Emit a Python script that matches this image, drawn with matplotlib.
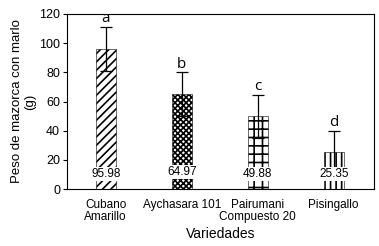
import numpy as np
import matplotlib.pyplot as plt

plt.rcParams['font.family'] = ['Liberation Sans', 'DejaVu Sans']

varieties = ["Cubano\nAmarillo", "Aychasara 101", "Pairumani\nCompuesto 20", "Pisingallo"]
means = [95.98, 64.97, 49.88, 25.35]
sds = [15.0, 15.0, 14.8, 14.5]
letters = ["a", "b", "c", "d"]
hatches = ["////", "xxxxxx", "++", "|||"]
label_y = [10, 11.5, 10, 10]

fig = plt.figure(figsize=(3.79, 2.46), dpi=100)
ax = fig.add_axes([67 / 379, 1 - 189 / 246, 307 / 379, 175 / 246])

x = np.arange(len(means))
plt.rcParams['hatch.linewidth'] = 1.2
bars = ax.bar(x, means, width=0.26, color="white", edgecolor="black",
              linewidth=0.4, zorder=2)
for b, h in zip(bars, hatches):
    b.set_hatch(h)
ax.errorbar(x, means, yerr=sds, fmt="none", ecolor="black", elinewidth=0.9,
            capsize=4, capthick=0.9, zorder=3)

for xi, m, s, lt, ly in zip(x, means, sds, letters, label_y):
    ax.text(xi, m + s + 0.5, lt, ha="center", va="bottom", fontsize=11,
            family=["Open Sans", "DejaVu Sans"])
    ax.text(xi, ly, f"{m:.2f}", ha="center", va="center", fontsize=8.5,
            zorder=4, bbox=dict(facecolor="white", edgecolor="none", pad=0.8))

ax.set_xlim(-0.51, 3.53)
ax.set_ylim(0, 120)
ax.set_yticks([0, 20, 40, 60, 80, 100, 120])
ax.set_xticks(x)
ax.set_xticklabels(varieties, fontsize=8.5, linespacing=1.0)
ax.tick_params(axis="x", length=0, pad=7)
ax.tick_params(axis="y", labelsize=9, length=3, direction="out", pad=2)
ax.set_xlabel("Variedades", fontsize=10, labelpad=3)
ax.set_ylabel("Peso de mazorca con marlo\n(g)", fontsize=9.5, linespacing=1.15,
              labelpad=2)
for sp in ax.spines.values():
    sp.set_linewidth(0.8)

fig.savefig("out.png", dpi=100)
